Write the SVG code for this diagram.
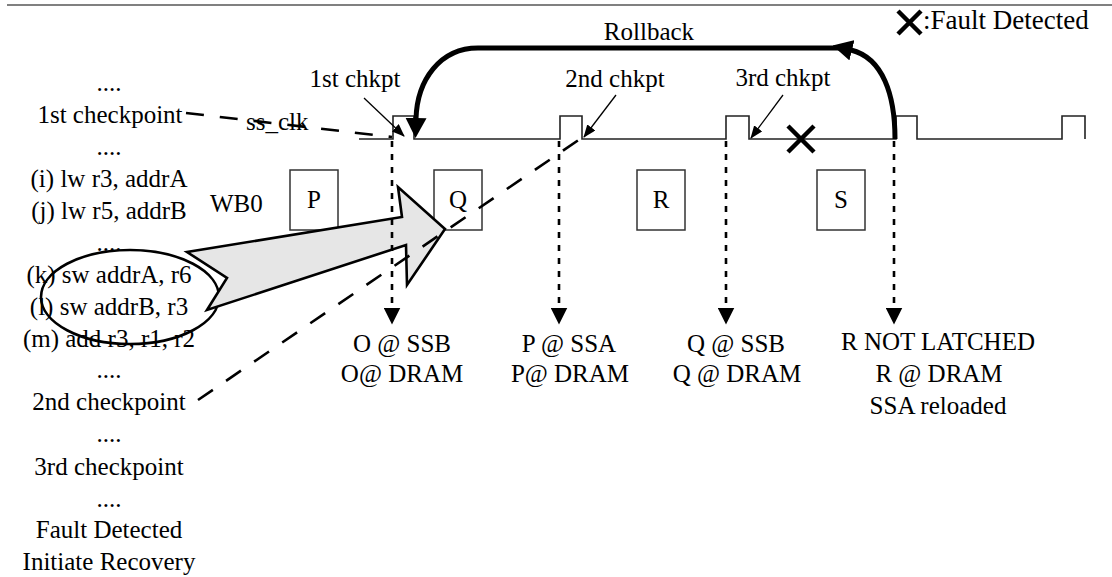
<svg xmlns="http://www.w3.org/2000/svg" width="1112" height="577" viewBox="0 0 1112 577">
  <style>
    text { font-family: "Liberation Serif", "Times New Roman", serif; font-size: 25px; fill: #000; }
    .mid { text-anchor: middle; }
    .box { fill: #fff; stroke: #333; stroke-width: 1.5; }
    .clock { fill: none; stroke: #222; stroke-width: 1.6; }
    .dotted { fill: none; stroke: #000; stroke-width: 2.6; stroke-dasharray: 6 7; }
    .dashed { fill: none; stroke: #000; stroke-width: 2.6; stroke-dasharray: 18 16; }
    .pointer { fill: none; stroke: #000; stroke-width: 1.3; }
    .rollback { fill: none; stroke: #000; stroke-width: 5; }
    .cross { stroke: #000; stroke-width: 4.5; fill: none; }
  </style>
  <defs>
    <marker id="headBig" markerUnits="userSpaceOnUse" viewBox="0 0 20 21" markerWidth="20" markerHeight="21" refX="1" refY="10.5" orient="auto">
      <path d="M0,0 L20,10.5 L0,21 z" fill="#000"/>
    </marker>
    <marker id="headDown" markerUnits="userSpaceOnUse" viewBox="0 0 17 17" markerWidth="17" markerHeight="17" refX="0.5" refY="8.5" orient="auto">
      <path d="M0,0 L17,8.5 L0,17 z" fill="#000"/>
    </marker>
    <marker id="headSmall" markerUnits="userSpaceOnUse" viewBox="0 0 13 10" markerWidth="13" markerHeight="10" refX="12" refY="5" orient="auto">
      <path d="M0,0 L13,5 L0,10 z" fill="#000"/>
    </marker>
  </defs>

  <!-- frame rule across the top -->
  <line x1="7" y1="5" x2="1112" y2="5" stroke="#808080" stroke-width="2"/>

  <!-- legend -->
  <g id="legend">
    <path class="cross" d="M898,11 L921,34 M921,11 L898,34"/>
    <text x="923" y="29" style="font-size:27px">:Fault Detected</text>
  </g>

  <!-- program listing on the left -->
  <g id="listing" class="mid">
    <text class="mid" x="109" y="91">....</text>
    <text class="mid" x="110" y="123">1st checkpoint</text>
    <text class="mid" x="109" y="155">....</text>
    <text class="mid" x="109" y="187">(i) lw r3, addrA</text>
    <text class="mid" x="109" y="219">(j) lw r5, addrB</text>
    <text class="mid" x="109" y="251">....</text>
    <text class="mid" x="109" y="283">(k) sw addrA, r6</text>
    <text class="mid" x="109" y="315">(l) sw addrB, r3</text>
    <text class="mid" x="109" y="347">(m) add r3, r1, r2</text>
    <text class="mid" x="109" y="378">....</text>
    <text class="mid" x="109" y="410">2nd checkpoint</text>
    <text class="mid" x="109" y="442">....</text>
    <text class="mid" x="109" y="475">3rd checkpoint</text>
    <text class="mid" x="109" y="507">....</text>
    <text class="mid" x="109" y="538">Fault Detected</text>
    <text class="mid" x="109" y="570">Initiate Recovery</text>
  </g>

  <!-- store group highlight -->
  <g id="store-group">
    <ellipse cx="130" cy="297" rx="89" ry="47" fill="none" stroke="#000" stroke-width="2.6"/>
  </g>

  <!-- ss_clk waveform -->
  <g id="ss-clk">
    <path class="clock" d="M359,139 H393 V116 H414 V139 H560 V116 H582 V139 H726 V116 H749 V139 H896 V116 H917 V139 H1062 V116 H1085 V139"/>
    <text x="246" y="130">ss_clk</text>
  </g>

  <!-- write buffer entries -->
  <g id="wb0">
    <text x="210" y="212">WB0</text>
  </g>
  <g id="box-P">
    <rect class="box" x="290" y="170" width="48" height="60"/>
    <text class="mid" x="314" y="208">P</text>
  </g>
  <g id="box-Q">
    <rect class="box" x="434" y="170" width="48" height="60"/>
    <text class="mid" x="458" y="208">Q</text>
  </g>
  <g id="box-R">
    <rect class="box" x="637" y="170" width="48" height="60"/>
    <text class="mid" x="661" y="208">R</text>
  </g>
  <g id="box-S">
    <rect class="box" x="817" y="170" width="48" height="60"/>
    <text class="mid" x="841" y="208">S</text>
  </g>

  <!-- checkpoint labels -->
  <g id="chkpt-1"><text class="mid" x="355" y="87">1st chkpt</text></g>
  <g id="chkpt-2"><text class="mid" x="615" y="87">2nd chkpt</text></g>
  <g id="chkpt-3"><text class="mid" x="783" y="86">3rd chkpt</text></g>

  <!-- fault mark on the clock -->
  <g id="fault">
    <path class="cross" d="M788,126 L814,152 M814,126 L788,152"/>
  </g>

  <!-- state at each edge -->
  <g id="state-1">
    <text class="mid" x="402" y="352">O @ SSB</text>
    <text class="mid" x="402" y="382">O@ DRAM</text>
  </g>
  <g id="state-2">
    <text class="mid" x="569" y="352">P @ SSA</text>
    <text class="mid" x="570" y="382">P@ DRAM</text>
  </g>
  <g id="state-3">
    <text class="mid" x="736" y="352">Q @ SSB</text>
    <text class="mid" x="737" y="382">Q @ DRAM</text>
  </g>
  <g id="state-4">
    <text class="mid" x="938" y="350">R NOT LATCHED</text>
    <text class="mid" x="939" y="382">R @ DRAM</text>
    <text class="mid" x="938" y="414">SSA reloaded</text>
  </g>

  <!-- store-to-buffer arrow -->
  <g id="store-arrow">
    <polygon points="445,229 398,187 402,217 187,252 227,278 207,310 406,245 407,285" fill="#e6e6e6" stroke="#000" stroke-width="2.6" stroke-linejoin="miter"/>
  </g>

  <g id="connectors">
    <!-- checkpoint references from the listing -->
    <path class="dashed" d="M186,113 L392,137"/>
    <path class="dashed" d="M198,400 L583,137"/>

    <!-- latch edges -->
    <path class="dotted" d="M392,141 V308" marker-end="url(#headDown)"/>
    <path class="dotted" d="M559,141 V308" marker-end="url(#headDown)"/>
    <path class="dotted" d="M726,141 V308" marker-end="url(#headDown)"/>
    <path class="dotted" d="M894,141 V308" marker-end="url(#headDown)"/>

    <!-- checkpoint pointers -->
    <path class="pointer" d="M364,98 L404,136" marker-end="url(#headSmall)"/>
    <path class="pointer" d="M616,95 L584,137" marker-end="url(#headSmall)"/>
    <path class="pointer" d="M783,95 L751,138" marker-end="url(#headSmall)"/>

    <!-- rollback -->
    <text class="mid" x="649" y="40">Rollback</text>
    <path class="rollback" d="M895,139 C895,95 883,58 851,50" marker-end="url(#headBig)"/>
    <path class="rollback" d="M851,48 L478,48 C440,48 417,80 416,119" marker-end="url(#headBig)"/>
  </g>
</svg>
